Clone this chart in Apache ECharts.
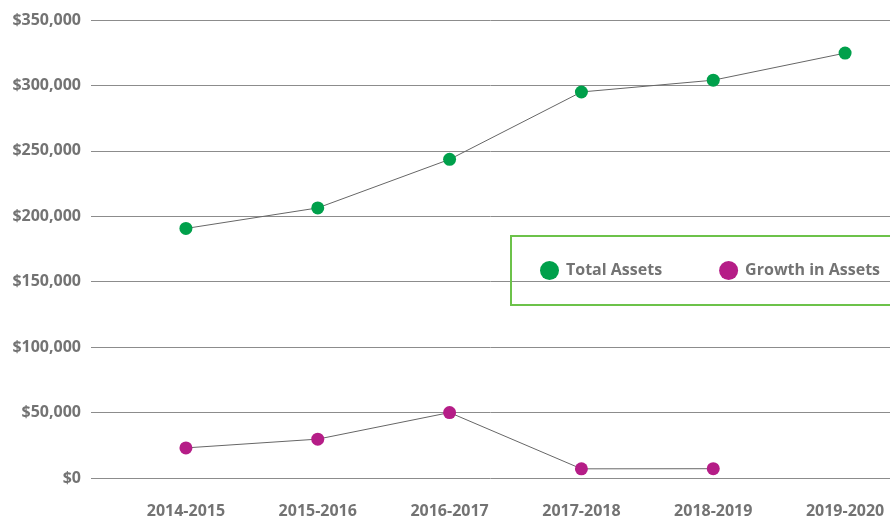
<!DOCTYPE html>
<html>
<head>
<meta charset="UTF-8">
<title>Total Assets</title>
<script src="https://cdn.jsdelivr.net/npm/echarts@6/dist/echarts.min.js"></script>
<style>
  html, body { margin: 0; padding: 0; background: #fff; }
  #main { width: 890px; height: 519px; }
</style>
</head>
<body>
<div id="main"></div>
<script>
// chart data
var years = ['2014-2015', '2015-2016', '2016-2017', '2017-2018', '2018-2019', '2019-2020'];
var totalAssets = [190700, 206400, 243500, 295000, 304000, 324700];
var growthAssets = [23000, 29700, 50000, 7000, 7100, null];

var font = '"Open Sans", "Noto Sans", sans-serif';
var grey = '#737373';

var myChart = echarts.init(document.getElementById('main'));
myChart.setOption({
    animation: false,
    // grid 0 holds the y labels and gridlines, grid 1 the category positions
    grid: [
        { left: 91, right: 0, top: 20, bottom: 41, outerBoundsMode: 'none' },
        { left: 120, width: 791, top: 20, bottom: 41, outerBoundsMode: 'none' }
    ],
    legend: {
        data: ['Total Assets', 'Growth in Assets'],
        left: 511,
        top: 236,
        width: 420,
        orient: 'horizontal',
        icon: 'circle',
        itemWidth: 19,
        itemHeight: 19,
        itemGap: 57,
        padding: [25, 60, 25, 29],
        borderColor: '#6cc24a',
        borderWidth: 2,
        textStyle: { fontFamily: font, fontWeight: 'bold', fontSize: 16, color: grey, padding: [0, 0, 0, 2] }
    },
    xAxis: [
        { type: 'category', gridIndex: 0, show: false, data: years },
        {
            type: 'category',
            gridIndex: 1,
            data: years,
            axisLine: { show: false },
            axisTick: { show: false },
            axisLabel: { margin: 25, fontFamily: font, fontWeight: 'bold', fontSize: 16, color: grey }
        }
    ],
    yAxis: [
        {
            type: 'value',
            gridIndex: 0,
            min: 0,
            max: 350000,
            interval: 50000,
            axisLine: { show: false },
            axisTick: { show: false },
            splitLine: { lineStyle: { color: '#8c8c8c', width: 1 } },
            axisLabel: {
                margin: 10,
                fontFamily: font, fontWeight: 'bold', fontSize: 16, color: grey,
                formatter: function (v) { return '$' + echarts.format.addCommas(v); }
            }
        },
        { type: 'value', gridIndex: 1, min: 0, max: 350000, show: false }
    ],
    series: [
        {
            name: 'Total Assets',
            type: 'line',
            xAxisIndex: 1,
            yAxisIndex: 1,
            data: totalAssets,
            symbol: 'circle',
            symbolSize: 13,
            itemStyle: { color: '#00a04b' },
            lineStyle: { color: '#666', width: 1 }
        },
        {
            name: 'Growth in Assets',
            type: 'line',
            xAxisIndex: 1,
            yAxisIndex: 1,
            data: growthAssets,
            symbol: 'circle',
            symbolSize: 13,
            itemStyle: { color: '#b51d87' },
            lineStyle: { color: '#666', width: 1 }
        }
    ]
});
</script>
</body>
</html>
